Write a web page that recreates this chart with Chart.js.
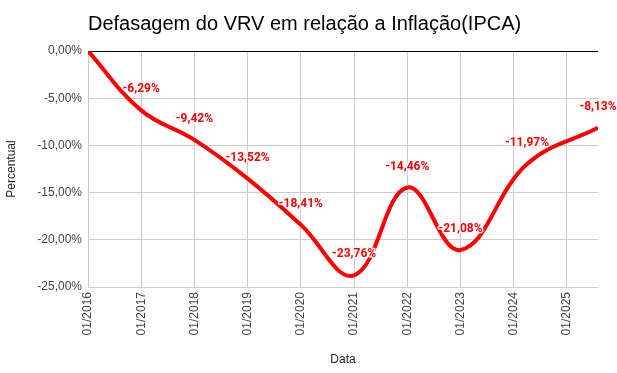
<!DOCTYPE html>
<html>
<head>
<meta charset="utf-8">
<script src="https://cdn.jsdelivr.net/npm/chart.js@4/dist/chart.umd.min.js"></script>
<style>
html,body{margin:0;padding:0;background:#fff;}
#wrap{width:617px;height:373px;position:relative;}
</style>
</head>
<body>
<div id="wrap"><canvas id="c" width="617" height="373"></canvas></div>
<script>
const titleText = 'Defasagem do VRV em relação a Inflação(IPCA)';
const dates = ['2016-01','2017-01','2018-01','2019-01','2020-01','2021-01','2022-01','2023-01','2024-04','2025-08'];
const values = [0, -6.29, -9.42, -13.52, -18.41, -23.76, -14.46, -21.08, -11.97, -8.13];
const tickYears = [2016,2017,2018,2019,2020,2021,2022,2023,2024,2025];
const yTicks = [0,-5,-10,-15,-20,-25];

function toYear(s){const p=s.split('-');return (+p[0]) + (+p[1]-1)/12;}
const points = dates.map((d,i)=>({x:toYear(d), y:values[i]}));
const fmt = v => v.toFixed(2).replace('.', ',') + '%';

const titlePlugin = {
  id:'customTitle',
  afterDraw(chart){
    const c = chart.ctx;
    c.save();
    c.font = '20px "Liberation Sans", Arial, sans-serif';
    c.fillStyle = '#000';
    c.textAlign = 'left';
    c.textBaseline = 'middle';
    c.fillText(titleText, chart.chartArea.left, 24);
    c.restore();
  }
};
const labelPlugin = {
  id:'pointLabels',
  afterDatasetsDraw(chart){
    const c = chart.ctx;
    const meta = chart.getDatasetMeta(0);
    c.save();
    c.font = 'bold 12px Roboto, sans-serif';
    c.textAlign = 'center';
    c.textBaseline = 'middle';
    c.lineJoin = 'round';
    meta.data.forEach((p,i)=>{
      if (values[i] === 0) return;
      const t = fmt(values[i]);
      c.strokeStyle = 'rgba(255,255,255,0.9)';
      c.lineWidth = 3;
      c.strokeText(t, p.x, p.y - 21);
      c.fillStyle = '#ff0000';
      c.fillText(t, p.x, p.y - 21);
    });
    c.restore();
  }
};

new Chart(document.getElementById('c'), {
  type:'line',
  data:{datasets:[{
    data: points,
    borderColor:'#ff0000',
    borderWidth:4,
    pointRadius:0,
    tension:0.4,
    fill:false
  }]},
  options:{
    responsive:false,
    animation:false,
    devicePixelRatio:1,
    layout:{padding:{top:51,right:19,left:0,bottom:0}},
    plugins:{legend:{display:false},tooltip:{enabled:false},title:{display:false}},
    scales:{
      x:{
        type:'linear',
        min: points[0].x,
        max: points[points.length-1].x,
        afterBuildTicks(s){ s.ticks = tickYears.map(v=>({value:v})); },
        afterFit(s){ s.height = 86; },
        grid:{color:'#cccccc', drawTicks:false, lineWidth:1},
        border:{display:false},
        ticks:{
          minRotation:90, maxRotation:90, padding:5,
          color:'#444', font:{family:'"Liberation Sans", Arial, sans-serif', size:12},
          callback:v=>'01/' + v
        },
        title:{display:true, text:'Data', color:'#222', font:{family:'"Liberation Sans", Arial, sans-serif', size:12}, padding:{top:4,bottom:6}}
      },
      y:{
        min:-25, max:0,
        afterBuildTicks(s){ s.ticks = yTicks.map(v=>({value:v})); },
        afterFit(s){ s.width = 88; },
        grid:{color:ctx=> (ctx.tick && ctx.tick.value === 0) ? '#000000' : '#cccccc', drawTicks:false, lineWidth:1},
        border:{display:false},
        ticks:{
          padding:6,
          color:'#444', font:{family:'"Liberation Sans", Arial, sans-serif', size:12},
          callback:v=>fmt(v)
        },
        title:{display:true, text:'Percentual', color:'#222', font:{family:'"Liberation Sans", Arial, sans-serif', size:12}, padding:{top:4,bottom:4}}
      }
    }
  },
  plugins:[titlePlugin, labelPlugin]
});
</script>
</body>
</html>
